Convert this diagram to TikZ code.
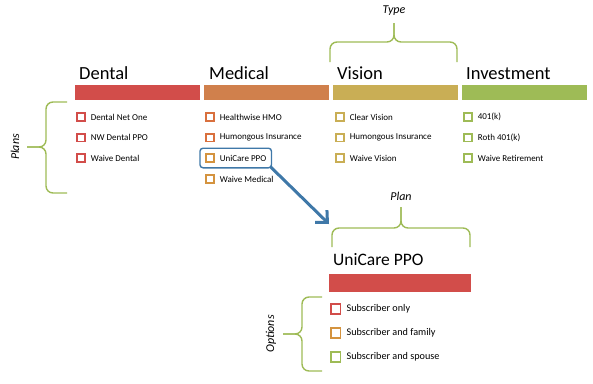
\documentclass[tikz,border=0pt]{standalone}
\usepackage{fontspec}
\setmainfont{Carlito}
\usetikzlibrary{arrows.meta,positioning,fit}
\definecolor{BarRed}{HTML}{D24D4A}
\definecolor{BarOrange}{HTML}{D0804C}
\definecolor{BarGold}{HTML}{C9AE55}
\definecolor{BarGreen}{HTML}{9EBB56}
\definecolor{BoxOrange}{HTML}{D9703E}
\definecolor{BoxAmber}{HTML}{D4933F}
\definecolor{PickBlue}{HTML}{3F78A8}

\begin{document}
\begin{tikzpicture}[x=1pt, y=-1pt,
    head/.style={anchor=base west, inner sep=0pt, font=\fontsize{18.5}{20}\selectfont},
    bar/.style={fill=#1, anchor=north west, inner sep=0pt, minimum height=15pt, minimum width=125pt},
    tick/.style={draw=#1, fill=white, line width=1.8pt, minimum size=7.8pt, inner sep=0pt, anchor=west},
    item/.style={inner sep=0pt, font=\fontsize{9}{10}\selectfont},
    brace/.style={draw=BarGreen, line width=1.4pt, rounded corners=7pt},
    tag/.style={inner sep=0pt, font=\fontsize{12}{14}\selectfont\itshape}]
  \useasboundingbox (0,0) rectangle (593,383);

  % Kopfzeilen der Typen
  \node[head] (dental) at (79,79) {Dental};
  \node[head] (medical) at (209,79) {Medical};
  \node[head] (vision) at (337,79) {Vision};
  \node[head] (invest) at (466,79) {Investment};

  \node[bar=BarRed] (dentalbar) at (75,85) {};
  \node[bar=BarOrange] (medicalbar) at (204,85) {};
  \node[bar=BarGold] (visionbar) at (333,85) {};
  \node[bar=BarGreen] (investbar) at (462,85) {};

  % Dental
  \node[tick=BarRed] (d1) at (76,117) {};
  \node[item, right=5pt of d1] (d1t) {Dental Net One};
  \node[tick=BarRed] (d2) at (76,137.5) {};
  \node[item, right=5pt of d2] (d2t) {NW Dental PPO};
  \node[tick=BarRed] (d3) at (76,158) {};
  \node[item, right=5pt of d3] (d3t) {Waive Dental};

  % Medical
  \node[tick=BoxOrange] (m1) at (205,117) {};
  \node[item, right=5pt of m1] (m1t) {Healthwise HMO};
  \node[tick=BoxOrange] (m2) at (205,137.5) {};
  \node[item, right=5pt of m2] (m2t) {Humongous Insurance};
  \node[tick=BoxAmber] (m3) at (205,158) {};
  \node[item, right=5pt of m3] (m3t) {UniCare PPO};
  \node[tick=BoxAmber] (m4) at (205,179) {};
  \node[item, right=5pt of m4] (m4t) {Waive Medical};

  % Vision
  \node[tick=BarGold] (v1) at (335,117) {};
  \node[item, right=5pt of v1] (v1t) {Clear Vision};
  \node[tick=BarGold] (v2) at (335,137.5) {};
  \node[item, right=5pt of v2] (v2t) {Humongous Insurance};
  \node[tick=BarGold] (v3) at (335,158) {};
  \node[item, right=5pt of v3] (v3t) {Waive Vision};

  % Investment
  \node[tick=BarGreen] (i1) at (463,117) {};
  \node[item, right=5pt of i1] (i1t) {401(k)};
  \node[tick=BarGreen] (i2) at (463,137.5) {};
  \node[item, right=5pt of i2] (i2t) {Roth 401(k)};
  \node[tick=BarGreen] (i3) at (463,158) {};
  \node[item, right=5pt of i3] (i3t) {Waive Retirement};

  % Auswahl und Pfeil
  \node[draw=PickBlue, line width=1.4pt, rounded corners=3pt, inner sep=5pt, fit=(m3)(m3t)] (pick) {};
  \coordinate (planend) at (329,224);
  \draw[PickBlue, line width=3pt, -{Straight Barb[length=9pt, width=17pt]}]
    ([xshift=-2pt, yshift=2pt]pick.south east) -- (planend);

  % Plan
  \node[head, font=\fontsize{17.5}{20}\selectfont] (plan) at (333,265) {UniCare PPO};
  \node[bar=BarRed, minimum width=142pt, minimum height=18pt] (planbar) at (329,274) {};

  \node[tick=BarRed, minimum size=9.6pt] (o1) at (330,309) {};
  \node[item, font=\fontsize{10.2}{12}\selectfont, right=5pt of o1] (o1t) {Subscriber only};
  \node[tick=BoxAmber, minimum size=9.6pt] (o2) at (330,333) {};
  \node[item, font=\fontsize{10.2}{12}\selectfont, right=5pt of o2] (o2t) {Subscriber and family};
  \node[tick=BarGreen, minimum size=9.6pt] (o3) at (330,357) {};
  \node[item, font=\fontsize{10.2}{12}\selectfont, right=5pt of o3] (o3t) {Subscriber and spouse};

  % Klammern
  \draw[brace] (330,62) |- (394,42) -- (394,23);
  \draw[brace] (457,62) |- (394,42) -- (394,23);
  \node[tag] (type) at (394,11) {Type};

  \draw[brace] (67,102) -| (46,147) -- (27,147);
  \draw[brace] (67,193) -| (46,147) -- (27,147);
  \node[tag, rotate=90] (plans) at (15,147) {Plans};

  \draw[brace] (332,247) |- (401,228) -- (401,207);
  \draw[brace] (470,247) |- (401,228) -- (401,207);
  \node[tag] (plantag) at (401,196) {Plan};

  \draw[brace] (322,297) -| (302,334) -- (283,334);
  \draw[brace] (322,371) -| (302,334) -- (283,334);
  \node[tag, rotate=90] (options) at (271,334) {Options};
\end{tikzpicture}
\end{document}
